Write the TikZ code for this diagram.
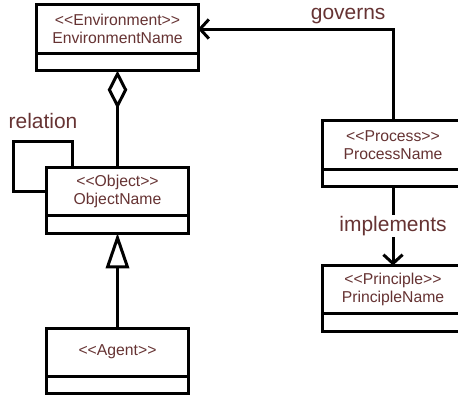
\documentclass[tikz,border=0pt]{standalone}
\usepackage{fontspec}
\setmainfont{Liberation Sans}
\usepackage{xcolor}
\usepackage{tikz}
\usetikzlibrary{positioning,arrows.meta,calc}
\definecolor{ink}  {HTML}{000000}
\definecolor{label}{HTML}{663333}
\newcommand{\stereo}[1]{<{}<#1>{}>}

\begin{document}
\begin{tikzpicture}[
  x=0.025cm,y=-0.025cm,
  font=\fontsize{11.2}{12.8}\selectfont,
  head/.style={draw=ink,line width=0.075cm,fill=white,outer sep=0pt,
               minimum height=1.2cm,minimum width=3.525cm,align=center,
               inner sep=0pt,text=label},
  foot/.style={draw=ink,line width=0.075cm,fill=white,outer sep=0pt,
               minimum height=0.44cm,minimum width=3.525cm,inner sep=0pt},
  conn/.style={draw=ink,line width=0.075cm},
  dep/.style={conn,-{Straight Barb[length=2.2mm,width=4.8mm]}},
  aggr/.style={conn,-{Diamond[open,length=9.6mm,width=4.9mm]}},
  inherit/.style={conn,-{Triangle[open,length=8.8mm,width=5.8mm]}},
  lbl/.style={font=\fontsize{14.9}{16}\selectfont,text=label}]

\useasboundingbox (0,0) rectangle (458,396);
\clip (0,0) rectangle (458,396);

\node[head,minimum width=4.025cm] (env) at (117.5,29)
  {\stereo{Environment}\\EnvironmentName};
\node[foot,minimum width=4.025cm,below=0pt of env] (envf) {};

\node[head] (obj) at (117.5,191.5) {\stereo{Object}\\ObjectName};
\node[foot,below=0pt of obj] (objf) {};

\node[head] (agent) at (117.5,352) {\stereo{Agent}};
\node[foot,below=0pt of agent] (agentf) {};

\node[head,minimum width=3.5cm] (proc) at (393,145) {\stereo{Process}\\ProcessName};
\node[foot,minimum width=3.5cm,below=0pt of proc] (procf) {};

\node[head,minimum width=3.5cm] (prin) at (393,289.5) {\stereo{Principle}\\PrincipleName};
\node[foot,minimum width=3.5cm,below=0pt of prin] (prinf) {};

\draw[aggr] (obj) -- (envf);
\draw[inherit] (agent) -- (objf);
\draw[dep] (proc) |- (env) node[lbl,pos=0.615,above=-1pt] (gov) {governs};
\draw[dep] (procf) -- (prin) node[lbl,midway,fill=white,inner sep=1pt] (impl) {implements};

% self relation on the object
\draw[conn] ($(obj.north west)+(26,0)$) |- ++(-59,-26) |- (obj.west);
\node[lbl] (rel) at (43,121) {relation};
\end{tikzpicture}
\end{document}
